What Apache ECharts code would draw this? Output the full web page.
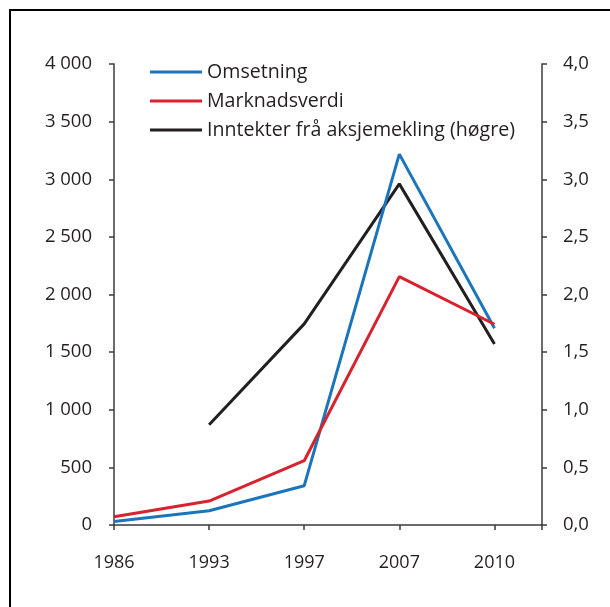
<!DOCTYPE html>
<html>
<head>
<meta charset="utf-8">
<script src="https://cdn.jsdelivr.net/npm/echarts@6/dist/echarts.min.js"></script>
<style>
html,body{margin:0;padding:0;background:#fff;}
#chart{width:610px;height:607px;}
</style>
</head>
<body>
<div id="chart"></div>
<script>
var years = ['1986', '1993', '1997', '2007', '2010'];
var omsetning = [30, 124, 341, 3218, 1707];
var marknadsverdi = [72, 208, 558, 2155, 1742];
var inntekter = [null, 0.87, 1.745, 2.96, 1.57];
var leftTicks = [0, 500, 1000, 1500, 2000, 2500, 3000, 3500, 4000];
var rightTicks = [0, 0.5, 1, 1.5, 2, 2.5, 3, 3.5, 4];

function pairs(arr) {
  var out = [];
  for (var i = 0; i < arr.length; i++) {
    if (arr[i] !== null) out.push([i, arr[i]]);
  }
  return out;
}

var FONT = 'Open Sans';
var TXT = '#231f20';
var AX = '#3a3a3a';

var chart = echarts.init(document.getElementById('chart'));
chart.setOption({
  animation: false,
  backgroundColor: '#fff',
  textStyle: { fontFamily: FONT },
  graphic: [{
    type: 'rect',
    shape: { x: 10, y: 10, width: 640, height: 640 },
    style: { fill: 'none', stroke: '#000', lineWidth: 2 },
    silent: true
  }],
  legend: {
    orient: 'vertical',
    left: 145,
    top: 57,
    itemWidth: 52,
    itemHeight: 3,
    itemGap: 9,
    icon: 'rect',
    textStyle: { fontFamily: FONT, fontSize: 19.6, color: TXT, lineHeight: 20 },
    data: ['Omsetning', 'Marknadsverdi', 'Inntekter frå aksjemekling (høgre)']
  },
  grid: { left: 114, right: 68, top: 64, bottom: 82, containLabel: false },
  xAxis: {
    type: 'value',
    min: 0,
    max: 4.5,
    interval: 1,
    splitLine: { show: false },
    axisLine: { show: true, lineStyle: { color: AX, width: 1.5 } },
    axisTick: { show: true, length: 5, lineStyle: { color: AX, width: 1.5 } },
    axisLabel: {
      margin: 29,
      fontSize: 18,
      color: TXT,
      fontFamily: FONT,
      formatter: function (v) { return Number.isInteger(v) && years[v] ? years[v] : ''; }
    }
  },
  yAxis: [{
    type: 'value',
    min: leftTicks[0],
    max: leftTicks[leftTicks.length - 1],
    interval: 500,
    position: 'left',
    splitLine: { show: false },
    axisLine: { show: true, lineStyle: { color: AX, width: 1.5 } },
    axisTick: { show: true, length: 5, lineStyle: { color: AX, width: 1.5 } },
    axisLabel: {
      margin: 22,
      fontSize: 18.5,
      color: TXT,
      fontFamily: FONT,
      formatter: function (v) { return String(v).replace(/\B(?=(\d{3})+(?!\d))/g, ' '); }
    }
  }, {
    type: 'value',
    min: rightTicks[0],
    max: rightTicks[rightTicks.length - 1],
    interval: 0.5,
    position: 'right',
    splitLine: { show: false },
    axisLine: { show: true, lineStyle: { color: AX, width: 1.5 } },
    axisTick: { show: true, length: 5, lineStyle: { color: AX, width: 1.5 } },
    axisLabel: {
      margin: 21,
      fontSize: 18.5,
      color: TXT,
      fontFamily: FONT,
      formatter: function (v) { return v.toFixed(1).replace('.', ','); }
    }
  }],
  series: [{
    name: 'Omsetning',
    type: 'line',
    data: pairs(omsetning),
    symbol: 'none',
    color: '#1b75bb',
    lineStyle: { width: 3, color: '#1b75bb' },
    z: 3
  }, {
    name: 'Marknadsverdi',
    type: 'line',
    data: pairs(marknadsverdi),
    symbol: 'none',
    color: '#d7232e',
    lineStyle: { width: 3, color: '#d7232e' },
    z: 4
  }, {
    name: 'Inntekter frå aksjemekling (høgre)',
    type: 'line',
    yAxisIndex: 1,
    data: pairs(inntekter),
    symbol: 'none',
    color: '#231f20',
    lineStyle: { width: 3, color: '#231f20' },
    z: 2
  }]
});
</script>
</body>
</html>
